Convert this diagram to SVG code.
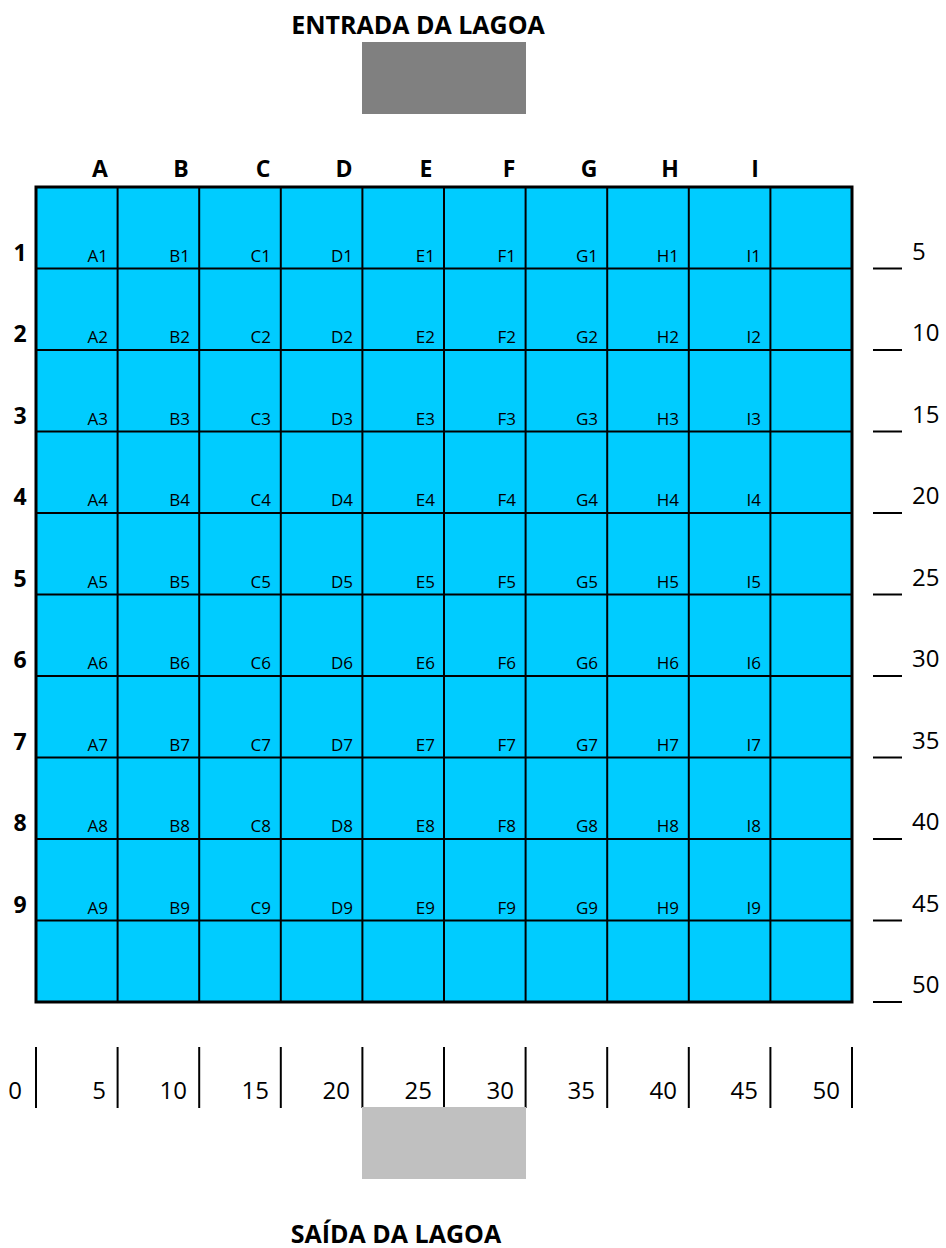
<svg xmlns="http://www.w3.org/2000/svg" width="946" height="1248" viewBox="0 0 946 1248">
<style>
.t{font-family:"Open Sans","Liberation Sans",sans-serif;fill:#000}
.title{font-size:25px;font-weight:bold;text-anchor:middle}
.col{font-size:23px;font-weight:bold;text-anchor:middle}
.row{font-size:23px;font-weight:bold;text-anchor:middle}
.cl{font-size:17px;text-anchor:end}
.sc{font-size:24px}
.bs{font-size:24px;text-anchor:end}
.ln{stroke:#000;stroke-width:2}
</style>
<rect width="946" height="1248" fill="#fff"/>
<g id="entrada">
<text class="t title" x="418" y="34">ENTRADA DA LAGOA</text>
<rect x="362" y="42" width="164" height="72" fill="#808080"/>
</g>
<g id="col-letters" class="t col">
<text x="100" y="177">A</text><text x="181" y="177">B</text><text x="263" y="177">C</text><text x="344" y="177">D</text><text x="426" y="177">E</text><text x="509" y="177">F</text><text x="589" y="177">G</text><text x="670" y="177">H</text><text x="755" y="177">I</text>
</g>
<g id="grid">
<rect x="36" y="187" width="816" height="815" fill="#00CCFF"/>
<g class="ln">
<line x1="117.6" y1="187" x2="117.6" y2="1002"/><line x1="199.2" y1="187" x2="199.2" y2="1002"/><line x1="280.8" y1="187" x2="280.8" y2="1002"/><line x1="362.4" y1="187" x2="362.4" y2="1002"/><line x1="444" y1="187" x2="444" y2="1002"/><line x1="525.6" y1="187" x2="525.6" y2="1002"/><line x1="607.2" y1="187" x2="607.2" y2="1002"/><line x1="688.8" y1="187" x2="688.8" y2="1002"/><line x1="770.4" y1="187" x2="770.4" y2="1002"/>
<line x1="36" y1="268.5" x2="852" y2="268.5"/><line x1="36" y1="350" x2="852" y2="350"/><line x1="36" y1="431.5" x2="852" y2="431.5"/><line x1="36" y1="513" x2="852" y2="513"/><line x1="36" y1="594.5" x2="852" y2="594.5"/><line x1="36" y1="676" x2="852" y2="676"/><line x1="36" y1="757.5" x2="852" y2="757.5"/><line x1="36" y1="839" x2="852" y2="839"/><line x1="36" y1="920.5" x2="852" y2="920.5"/>
</g>
<rect x="36" y="187" width="816" height="815" fill="none" stroke="#000" stroke-width="3"/>
</g>
<g id="row-numbers" class="t row">
<text x="20" y="261">1</text><text x="20" y="342">2</text><text x="20" y="424">3</text><text x="20" y="505">4</text><text x="20" y="587">5</text><text x="20" y="668">6</text><text x="20" y="750">7</text><text x="20" y="831">8</text><text x="20" y="913">9</text>
</g>
<g id="cell-labels" class="t cl">
<g id="row1"><text x="108" y="262">A1</text><text x="190" y="262">B1</text><text x="271" y="262">C1</text><text x="353" y="262">D1</text><text x="435" y="262">E1</text><text x="516" y="262">F1</text><text x="598" y="262">G1</text><text x="679" y="262">H1</text><text x="761" y="262">I1</text></g>
<g id="row2"><text x="108" y="343">A2</text><text x="190" y="343">B2</text><text x="271" y="343">C2</text><text x="353" y="343">D2</text><text x="435" y="343">E2</text><text x="516" y="343">F2</text><text x="598" y="343">G2</text><text x="679" y="343">H2</text><text x="761" y="343">I2</text></g>
<g id="row3"><text x="108" y="425">A3</text><text x="190" y="425">B3</text><text x="271" y="425">C3</text><text x="353" y="425">D3</text><text x="435" y="425">E3</text><text x="516" y="425">F3</text><text x="598" y="425">G3</text><text x="679" y="425">H3</text><text x="761" y="425">I3</text></g>
<g id="row4"><text x="108" y="506">A4</text><text x="190" y="506">B4</text><text x="271" y="506">C4</text><text x="353" y="506">D4</text><text x="435" y="506">E4</text><text x="516" y="506">F4</text><text x="598" y="506">G4</text><text x="679" y="506">H4</text><text x="761" y="506">I4</text></g>
<g id="row5"><text x="108" y="588">A5</text><text x="190" y="588">B5</text><text x="271" y="588">C5</text><text x="353" y="588">D5</text><text x="435" y="588">E5</text><text x="516" y="588">F5</text><text x="598" y="588">G5</text><text x="679" y="588">H5</text><text x="761" y="588">I5</text></g>
<g id="row6"><text x="108" y="669">A6</text><text x="190" y="669">B6</text><text x="271" y="669">C6</text><text x="353" y="669">D6</text><text x="435" y="669">E6</text><text x="516" y="669">F6</text><text x="598" y="669">G6</text><text x="679" y="669">H6</text><text x="761" y="669">I6</text></g>
<g id="row7"><text x="108" y="751">A7</text><text x="190" y="751">B7</text><text x="271" y="751">C7</text><text x="353" y="751">D7</text><text x="435" y="751">E7</text><text x="516" y="751">F7</text><text x="598" y="751">G7</text><text x="679" y="751">H7</text><text x="761" y="751">I7</text></g>
<g id="row8"><text x="108" y="832">A8</text><text x="190" y="832">B8</text><text x="271" y="832">C8</text><text x="353" y="832">D8</text><text x="435" y="832">E8</text><text x="516" y="832">F8</text><text x="598" y="832">G8</text><text x="679" y="832">H8</text><text x="761" y="832">I8</text></g>
<g id="row9"><text x="108" y="914">A9</text><text x="190" y="914">B9</text><text x="271" y="914">C9</text><text x="353" y="914">D9</text><text x="435" y="914">E9</text><text x="516" y="914">F9</text><text x="598" y="914">G9</text><text x="679" y="914">H9</text><text x="761" y="914">I9</text></g>
</g>
<g id="right-scale">
<g class="ln">
<line x1="873" y1="268.5" x2="902" y2="268.5"/><line x1="873" y1="350" x2="902" y2="350"/><line x1="873" y1="431.5" x2="902" y2="431.5"/><line x1="873" y1="513" x2="902" y2="513"/><line x1="873" y1="594.5" x2="902" y2="594.5"/><line x1="873" y1="676" x2="902" y2="676"/><line x1="873" y1="757.5" x2="902" y2="757.5"/><line x1="873" y1="839" x2="902" y2="839"/><line x1="873" y1="920.5" x2="902" y2="920.5"/><line x1="873" y1="1002" x2="902" y2="1002"/>
</g>
<g class="t sc">
<text x="912" y="260">5</text><text x="912" y="341">10</text><text x="912" y="423">15</text><text x="912" y="504">20</text><text x="912" y="586">25</text><text x="912" y="667">30</text><text x="912" y="749">35</text><text x="912" y="830">40</text><text x="912" y="912">45</text><text x="912" y="993">50</text>
</g>
</g>
<g id="bottom-scale">
<g class="ln">
<line x1="36" y1="1047" x2="36" y2="1108"/><line x1="117.6" y1="1047" x2="117.6" y2="1108"/><line x1="199.2" y1="1047" x2="199.2" y2="1108"/><line x1="280.8" y1="1047" x2="280.8" y2="1108"/><line x1="362.4" y1="1047" x2="362.4" y2="1108"/><line x1="444" y1="1047" x2="444" y2="1108"/><line x1="525.6" y1="1047" x2="525.6" y2="1108"/><line x1="607.2" y1="1047" x2="607.2" y2="1108"/><line x1="688.8" y1="1047" x2="688.8" y2="1108"/><line x1="770.4" y1="1047" x2="770.4" y2="1108"/><line x1="852" y1="1047" x2="852" y2="1108"/>
</g>
<g class="t bs">
<text x="22" y="1099">0</text><text x="106" y="1099">5</text><text x="187" y="1099">10</text><text x="269" y="1099">15</text><text x="350" y="1099">20</text><text x="432" y="1099">25</text><text x="514" y="1099">30</text><text x="595" y="1099">35</text><text x="677" y="1099">40</text><text x="758" y="1099">45</text><text x="840" y="1099">50</text>
</g>
</g>
<g id="saida">
<rect x="362" y="1107" width="164" height="72" fill="#C0C0C0"/>
<text class="t title" x="396" y="1243">SAÍDA DA LAGOA</text>
</g>
</svg>
